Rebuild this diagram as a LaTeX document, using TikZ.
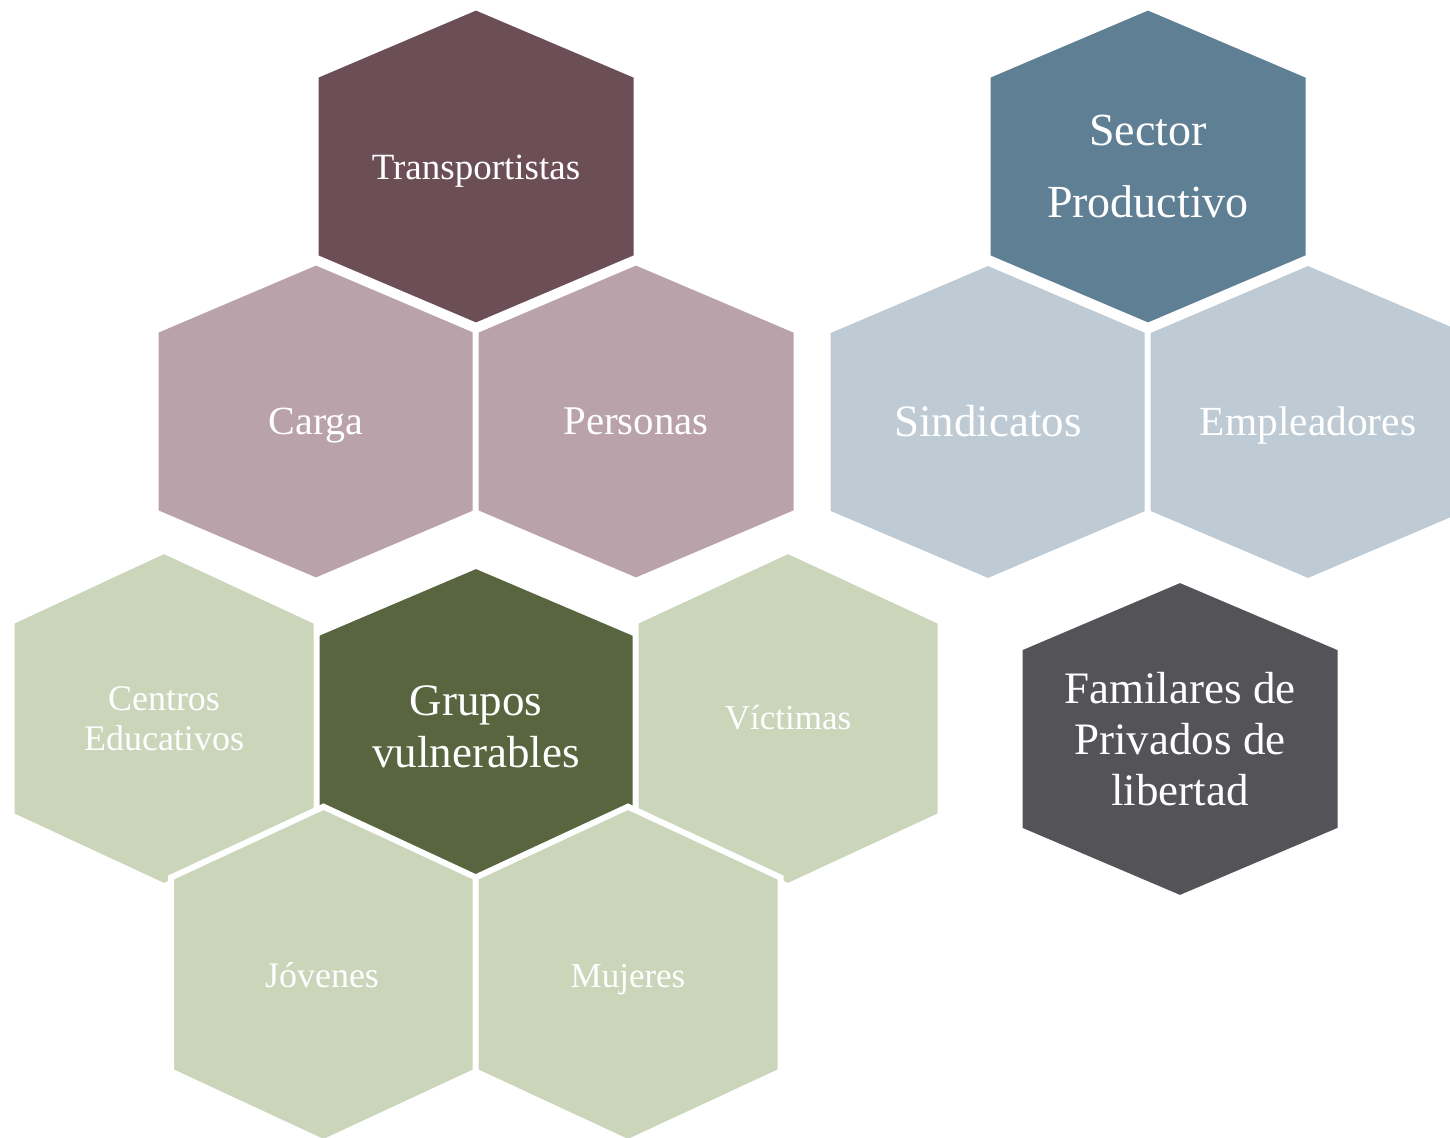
\documentclass[tikz,border=0pt]{standalone}
\usepackage{fontspec}
\setmainfont{Liberation Serif}
\usepackage{xcolor}
\usepackage{tikz}

\definecolor{malva}{HTML}{6B4E56}
\definecolor{malvaclaro}{HTML}{BAA2AA}
\definecolor{acero}{HTML}{5F7F95}
\definecolor{aceroclaro}{HTML}{BECBD4}
\definecolor{oliva}{HTML}{58653E}
\definecolor{olivaclaro}{HTML}{CAD5BA}
\definecolor{grafito}{HTML}{545358}

\begin{document}
\begin{tikzpicture}[x=0.5pt,y=-0.5pt,
    hexa/.style={draw=white, line width=3pt, line join=miter},
    lbl/.style={text=white, align=center, inner sep=0pt}]
        \useasboundingbox (0,0) rectangle (1450,1138);
        \clip (0,0) rectangle (1450,1138);
        % large cells
        \foreach \x/\y/\c in {476/166.5/malva, 316/421.5/malvaclaro, 636/421.5/malvaclaro,
                              1148/166.5/acero, 988/422/aceroclaro, 1308/422/aceroclaro,
                              476/725/oliva, 1180/739/grafito} {
            \path[hexa, fill=\c] (\x,{\y-159.3}) -- ({\x+160.5},{\y-91}) -- ({\x+160.5},{\y+91})
                -- (\x,{\y+159.3}) -- ({\x-160.5},{\y+91}) -- ({\x-160.5},{\y-91}) -- cycle;
        }
        % small green cells
        \foreach \x/\y in {164/718.5, 788/718.5, 323.5/974.5, 628/974.5} {
            \path[hexa, fill=olivaclaro] (\x,{\y-167.8}) -- ({\x+152.5},{\y-97}) -- ({\x+152.5},{\y+97})
                -- (\x,{\y+167.8}) -- ({\x-152.5},{\y+97}) -- ({\x-152.5},{\y-97}) -- cycle;
        }
        \node[lbl, font=\fontsize{18.5}{22}\selectfont] (transp) at (476,171) {Transportistas};
        \node[lbl, font=\fontsize{20}{24}\selectfont] (carga) at (316,426) {Carga};
        \node[lbl, font=\fontsize{20.4}{24}\selectfont] (personas) at (636,421) {Personas};
        \node[lbl, font=\fontsize{23}{36}\selectfont] (sector) at (1148,167) {Sector\\Productivo};
        \node[lbl, font=\fontsize{22.5}{26}\selectfont] (sindicatos) at (988,421) {Sindicatos};
        \node[lbl, font=\fontsize{20.7}{24}\selectfont] (empleadores) at (1308,426) {Empleadores};
        \node[lbl, font=\fontsize{18}{20}\selectfont] (centros) at (164,719) {Centros\\Educativos};
        \node[lbl, font=\fontsize{22.5}{26}\selectfont] (grupos) at (476,727) {Grupos\\vulnerables};
        \node[lbl, font=\fontsize{17.5}{21}\selectfont] (victimas) at (788,718) {Víctimas};
        \node[lbl, font=\fontsize{18}{21}\selectfont] (jovenes) at (322,975) {Jóvenes};
        \node[lbl, font=\fontsize{17.5}{21}\selectfont] (mujeres) at (628,980) {Mujeres};
        \node[lbl, font=\fontsize{22.5}{25.5}\selectfont] (familiares) at (1180,739) {Familares de\\Privados de\\libertad};
    \end{tikzpicture}
\end{document}
